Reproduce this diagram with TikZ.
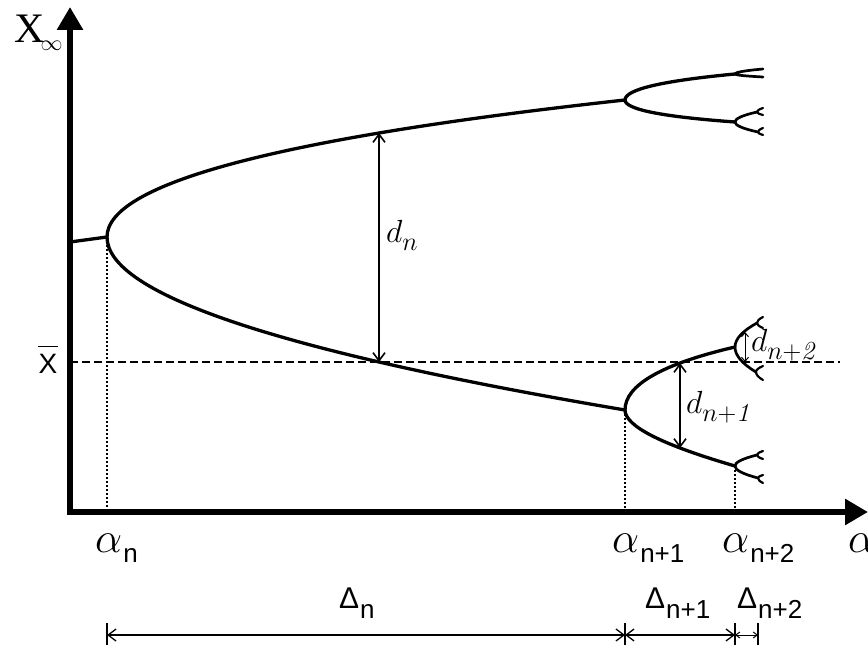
\documentclass[tikz,border=0pt]{standalone}
\usepackage{fix-cm}
\usepackage{fontspec}
\newfontfamily\lsans{Liberation Sans}
\newfontfamily\lserif{Liberation Serif}
\usetikzlibrary{arrows.meta}
\newcommand\alab[1]{\fontsize{43}{43}\selectfont$\alpha$\kern1pt\raisebox{-10pt}{\lsans\fontsize{26}{26}\selectfont #1}}
\newcommand\dlab[1]{{\lsans\fontsize{30}{30}\selectfont Δ}\kern1pt\raisebox{-10pt}{\lsans\fontsize{26}{26}\selectfont #1}}
\newcommand\dsub[1]{\fontsize{32}{32}\selectfont$d$\kern0pt\raisebox{-8pt}{\fontsize{26}{26}\selectfont$#1$}}
% fork drawn from its split point (x,y): upper end (x+dxu,y+dyu), lower end (x+dxd,y+dyd)
\newcommand\tfork[7]{\draw[#7] ({#1+#3},{#2+#4}) .. controls ({#1+#3/3},{#2+2*#4/3}) and (#1,{#2+#4/3}) .. (#1,#2) .. controls (#1,{#2+#6/3}) and ({#1+#5/3},{#2+2*#6/3}) .. ({#1+#5},{#2+#6});}
\begin{document}
\begin{tikzpicture}[x=1pt,y=-1pt,
  axis/.style={line width=6pt, line join=miter, {Triangle[length=23pt,width=25pt]}-{Triangle[length=23pt,width=25pt]}},
  branch/.style={line width=3.3pt, line cap=round},
  twig/.style={line width=2.7pt, line cap=round},
  sprig/.style={line width=2.2pt, line cap=round},
  guide/.style={line width=2.4pt, dash pattern=on 2pt off 2pt},
  mean/.style={line width=2pt, dash pattern=on 8pt off 4pt},
  gapbig/.style={line width=1.6pt, {Straight Barb[length=8pt,width=12pt]}-{Straight Barb[length=8pt,width=12pt]}},
  gapsmall/.style={line width=1pt, {Straight Barb[length=4pt,width=7pt]}-{Straight Barb[length=4pt,width=7pt]}},
  dimline/.style={line width=1.3pt, {Straight Barb[length=8pt,width=12pt]}-{Straight Barb[length=8pt,width=12pt]}},
  dimsmall/.style={line width=1pt, {Straight Barb[length=4pt,width=6pt]}-{Straight Barb[length=4pt,width=6pt]}},
  tick/.style={line width=1.3pt},
  lab/.style={inner sep=0pt, anchor=base west}]
\useasboundingbox (0,0) rectangle (868,647);

% axes
\coordinate (ytip) at (70,7);
\coordinate (O) at (70,512);
\coordinate (xtip) at (868,512);
\draw[axis] (ytip) -- (O) -- (xtip);

% key points
\coordinate (B0) at (70,242);
\coordinate (B1) at (107,237);
\coordinate (U1) at (625,100);
\coordinate (L1) at (625,410);
\coordinate (UU) at (735,74);
\coordinate (UL) at (735,122);
\coordinate (LU) at (735,347);
\coordinate (LL) at (735,466);

% mean line
\coordinate (mL) at (70,362);
\coordinate (mR) at (840,362);
\draw[mean] (mL) -- (mR);

% dotted guides
\draw[guide] (B1) -- (B1 |- O);
\draw[guide] (L1) -- (L1 |- O);
\draw[guide] (LL) -- (LL |- O);

% branches
\draw[branch] (B0) -- (B1);
\draw[branch] (U1) .. controls (279.7,137.8) and (107,183.4) .. (B1) .. controls (107,294.1) and (279.7,351.7) .. (L1);
\draw[branch] (UU) .. controls (661.7,80.9) and (625,89.5) .. (U1) .. controls (625,109.3) and (661.7,116.7) .. (UL);
\draw[branch] (LU) .. controls (661.7,364.1) and (625,385.1) .. (L1) .. controls (625,426.1) and (661.7,444.7) .. (LL);

% third level forks
\tfork{735}{74}{28}{-5}{28}{3}{twig}
\tfork{735}{122}{22}{-10}{23}{10}{twig}
\tfork{735}{347}{22}{-24}{21}{25}{twig}
\tfork{735}{466}{22}{-11}{23}{12}{twig}
% fourth level prongs
\tfork{757}{112}{6}{-4}{6}{3}{sprig}
\tfork{758}{132}{5}{-4}{5}{3}{sprig}
\tfork{757}{323}{6}{-6}{6}{5}{sprig}
\tfork{756}{372}{7}{-6}{7}{8}{sprig}
\tfork{757}{455}{6}{-4}{6}{4}{sprig}
\tfork{758}{478}{5}{-3}{5}{5}{sprig}

% distances d
\coordinate (dn1) at (379,133);
\coordinate (dn2) at (379,362);
\draw[gapbig] (dn1) -- (dn2);
\coordinate (d1a) at (680,363);
\coordinate (d1b) at (680,448);
\draw[gapbig] (d1a) -- (d1b);
\coordinate (d2a) at (745,332);
\coordinate (d2b) at (745,362);
\draw[gapsmall] (d2a) -- (d2b);
\node[lab] (ldn) at (386,243) {\dsub{n}};
\node[lab] (ld1) at (686,413) {\dsub{n{+}\mathit{1}}};
\node[lab] (ld2) at (751,351) {\dsub{n{+}\mathit{2}}};

% axis labels
\node[lab] (lx) at (14,43) {{\lserif\fontsize{42}{42}\selectfont X}\kern-4pt\raisebox{-8pt}{\fontsize{22}{22}\selectfont$\infty$}};
\node[inner sep=0pt, anchor=base] (xb) at (48,373) {\lsans\fontsize{28}{28}\selectfont X};
\draw[line width=1.5pt] ([yshift=7pt]xb.north west) -- ([yshift=7pt]xb.north east);

\node[lab] (a0) at (95,552) {\alab{n}};
\node[lab] (a1) at (612,552) {\alab{n+1}};
\node[lab] (a2) at (722,552) {\alab{n+2}};
\node[lab] (a3) at (848,552) {\fontsize{43}{43}\selectfont$\alpha$};

% bottom dimensions
\coordinate (t0) at (107,635);
\coordinate (t1) at (625,635);
\coordinate (t2) at (735,635);
\coordinate (t3) at (758,635);
\foreach \t in {t0,t1,t2,t3} \draw[tick] ([yshift=12pt]\t) -- ([yshift=-10pt]\t);
\draw[dimline] (t0) -- (t1);
\draw[dimline] (t1) -- (t2);
\draw[dimsmall] (t2) -- (t3);
\node[lab] (D0) at (339,608) {\dlab{n}};
\node[lab] (D1) at (645,608) {\dlab{n+1}};
\node[lab] (D2) at (737,608) {\dlab{n+2}};
\end{tikzpicture}
\end{document}
